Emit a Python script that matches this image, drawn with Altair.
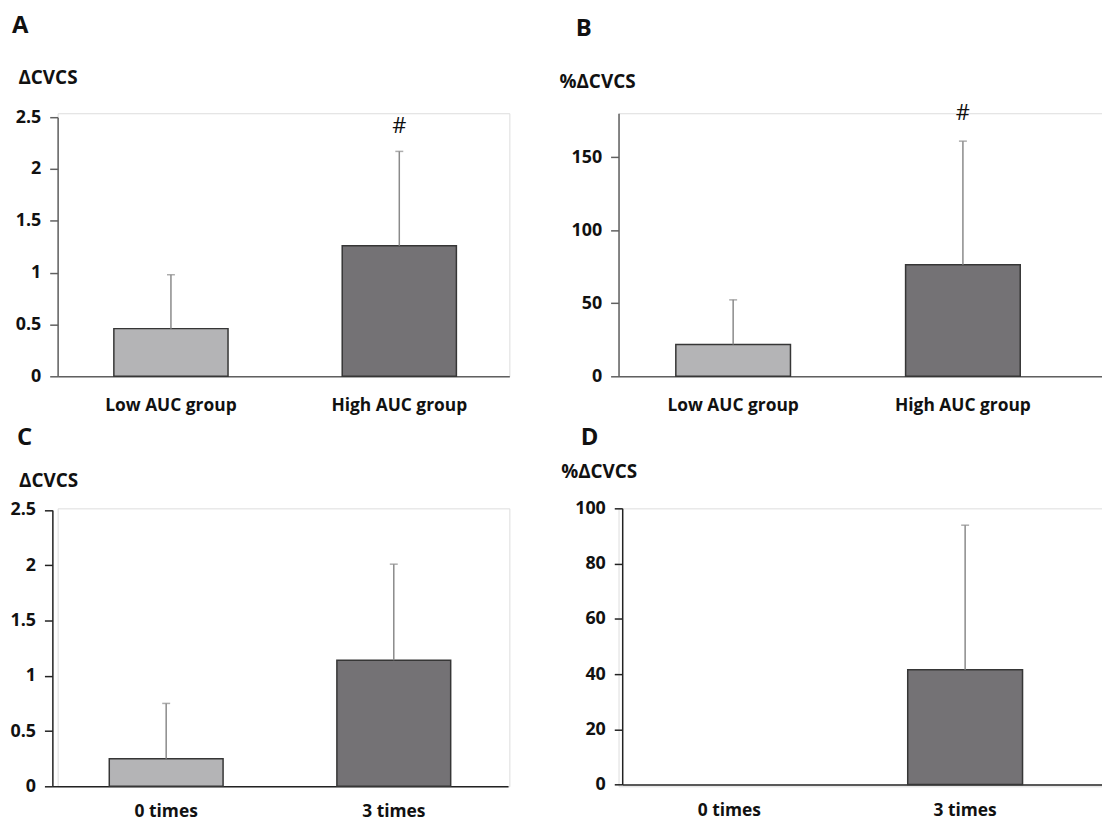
import altair as alt
import pandas as pd

FONT = "Open Sans"

# ---- data ----
cats_auc = ["Low AUC group", "High AUC group"]
cats_times = ["0 times", "3 times"]

a_mean = [0.46, 1.26]
a_upper = [0.98, 2.17]
a_marks = ["", "#"]

b_mean = [21.8, 76.4]
b_upper = [52.3, 160.9]
b_marks = ["", "#"]

c_mean = [0.25, 1.14]
c_upper = [0.75, 2.01]
c_marks = ["", ""]

d_mean = [0.0, 41.6]
d_upper = [0.0, 93.9]
d_marks = ["", ""]

bar_colors = ["#b4b4b6", "#747275"]

a_ticks = [0, 0.5, 1, 1.5, 2, 2.5]
b_ticks = [0, 50, 100, 150]
c_ticks = [0, 0.5, 1, 1.5, 2, 2.5]
d_ticks = [0, 20, 40, 60, 80, 100]


def panel(cats, means, uppers, marks, letter, ytitle, ydomain, yticks,
          width, height, xrange, pi, po, al, yrange, yoff, xoff,
          titlex, titley, letterx, lettery, axis_color, hash_dy, label_pad):
    df = pd.DataFrame({"cat": cats, "mean": means, "upper": uppers,
                       "mark": marks, "fill": bar_colors})
    xscale = alt.Scale(domain=cats, range=xrange, paddingInner=pi,
                       paddingOuter=po, align=al)
    xenc = alt.X("cat:N", sort=cats, scale=xscale,
                 axis=alt.Axis(title=None, labelAngle=0, ticks=False, tickSize=0,
                               domainColor=axis_color, domainWidth=1.5,
                               labelFont=FONT, labelFontSize=17.5, labelFontWeight="bold",
                               labelColor="#111111", labelPadding=label_pad, offset=xoff))
    yenc = alt.Y("mean:Q",
                 scale=alt.Scale(domain=ydomain, range=yrange, nice=False, zero=True),
                 axis=alt.Axis(values=yticks, labelExpr="format(datum.value, '~f')",
                               grid=False,
                               title=ytitle, titleAngle=0, titleAlign="left",
                               titleBaseline="alphabetic", titleX=titlex, titleY=titley,
                               titleFont=FONT, titleFontSize=19, titleFontWeight="bold",
                               titleColor="#111111",
                               domainColor=axis_color, domainWidth=1.5,
                               tickColor=axis_color, tickWidth=1.5, tickSize=8,
                               labelFont=FONT, labelFontSize=18, labelFontWeight="bold",
                               labelColor="#111111", labelPadding=9, offset=yoff))
    base = alt.Chart(df)
    bars = base.transform_filter("datum.mean > 0").mark_bar(
        stroke="#363636", strokeWidth=1.5).encode(
        x=xenc, y=yenc, fill=alt.Fill("fill:N", scale=None))
    err = base.transform_filter("datum.upper > datum.mean").mark_rule(
        color="#8a8a8a", strokeWidth=1.5).encode(
        x=alt.X("cat:N", sort=cats), y="mean:Q", y2="upper:Q")
    cap = base.transform_filter("datum.upper > datum.mean").mark_tick(
        color="#8a8a8a", thickness=1.5, size=8).encode(
        x=alt.X("cat:N", sort=cats), y="upper:Q")
    hashes = base.transform_filter("datum.mark != ''").mark_text(
        font=FONT, fontSize=22, color="#111111", baseline="alphabetic",
        dy=hash_dy).encode(x=alt.X("cat:N", sort=cats), y="upper:Q", text="mark:N")
    lab = alt.Chart(pd.DataFrame({"t": [letter]})).mark_text(
        font=FONT, fontSize=24, fontWeight="bold", color="#111111",
        align="left", baseline="alphabetic", x=letterx, y=lettery).encode(text="t:N")
    return alt.layer(bars, err, cap, hashes, lab).properties(width=width, height=height)


pA = panel(cats_auc, a_mean, a_upper, a_marks, "A", "ΔCVCS", [0, 2.5], a_ticks,
           455, 265, [0, 455], 0.5, 0.239, 0.515, [265, 4], 0, 0,
           -40, -30, -46, -81, "#606060", -19, 20)
pB = panel(cats_auc, b_mean, b_upper, b_marks, "B", "%ΔCVCS", [0, 180], b_ticks,
           487, 265, [0, 487], 0.501, 0.3026, 0.412, [265, 0], 0, 0,
           -60, -26, -43, -78, "#606060", -21, 20)
pC = panel(cats_times, c_mean, c_upper, c_marks, "C", "ΔCVCS", [0, 2.5], c_ticks,
           455, 280, [-5.3, 453.7], 0.5, 0.251, 0.498, [280, 1.7], 5.3, 0,
           -34, -22, -41, -64, "#222222", -18, 16)
pD = panel(cats_times, d_mean, d_upper, d_marks, "D", "%ΔCVCS", [0, 100], d_ticks,
           487, 280, [3.7, 487], 0.513, 0.274, 0.385, [278.3, 0], -3.7, -1.7,
           -62, -31, -38, -64, "#222222", -18, 17.5)

chart = alt.concat(pA, pB, pC, pD, columns=2, spacing={"row": 133, "column": 110},
                   bounds="flush", align="each").properties(
    autosize=alt.AutoSizeParams(type="none"),
    padding={"left": 50, "top": 103, "right": 1052, "bottom": 716},
).configure_view(stroke=None).configure(background="white")

chart.save("out.html", embed_options={"renderer": "svg", "actions": False})
